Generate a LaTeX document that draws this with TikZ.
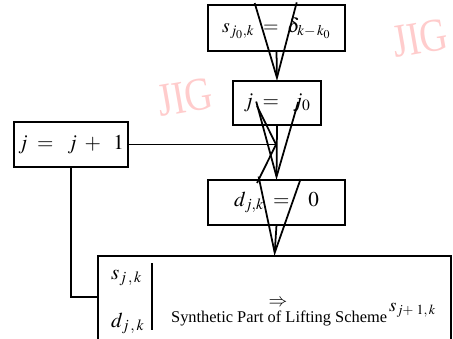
\documentclass[tikz,border=0pt]{standalone}
\usepackage{mathptmx}
\usepackage{fontspec}
\setmainfont{Liberation Serif}
\usetikzlibrary{arrows.meta}

\tikzset{
  blk/.style={draw,line width=1.6pt,inner sep=0pt,outer sep=0pt,
    font=\fontsize{18}{21}\selectfont},
  vbarb/.style={line width=1.5pt,-{Straight Barb[length=2.25cm,width=1.26cm]}},
  hbarb/.style={line width=1.5pt,-{Straight Barb[length=0.57cm,width=2.31cm]}},
  wm/.style={text=red!20,font=\fontsize{40}{40}\selectfont,
    rotate=10,xscale=0.82,inner sep=0pt}
}

\begin{document}
\begin{tikzpicture}[x=0.03cm,y=-0.03cm]
  \useasboundingbox (0,0) rectangle (453,338);
  % watermarks
  \node[wm] (wma) at (185,97) {JIG};
  \node[wm] (wmb) at (420,38) {JIG};
  \node[wm] (wmc) at (352,360) {JIG};
  % boxes
  \node[blk,minimum width=4.11cm,minimum height=1.38cm,font=\fontsize{17}{20}\selectfont]
    (init) at (276.5,28) {$s_{j_0,k}\;=\;\delta_{k-\,k_0}$};
  \node[blk,minimum width=2.64cm,minimum height=1.32cm] (start) at (277,103)
    {$j\;=\;\;j_0$};
  \node[blk,minimum width=3.42cm,minimum height=1.35cm] (incr) at (71,144.5)
    {$j\;=\;\;j\;+\;\;1$};
  \node[blk,minimum width=4.11cm,minimum height=1.35cm] (zero) at (276.5,202.5)
    {$d_{j,k}\;=\;\;\;0$};
  \node[blk,minimum width=10.59cm,minimum height=3.48cm] (synth) at (274.5,314) {};
  % inside the last box
  \node[anchor=base west,font=\fontsize{18}{21}\selectfont] (sjk) at (107,279) {$s_{j\,,\,k}$};
  \node[anchor=base west,font=\fontsize{18}{21}\selectfont] (djk) at (107,327) {$d_{j\,,\,k}$};
  \draw[line width=1.8pt] (152,263) -- (152,330);
  \node[font=\fontsize{16}{18}\selectfont] (imp) at (278,303) {$\Rightarrow$};
  \node[anchor=base west,font=\fontsize{14}{16}\selectfont] (syn) at (167,322)
    {Synthetic Part of Lifting Scheme};
  \node[anchor=base west,font=\fontsize{16}{18}\selectfont] (snext) at (385,311)
    {$s_{j+\;1,\,k}$};
  % connectors
  \draw[vbarb] (init.south) -- (start.north);
  \draw[vbarb] (start.south) -- (zero.north);
  \draw[vbarb] (zero.south) -- (synth.north);
  \draw[hbarb] (incr.east) -- (incr.east -| start.south);
  \draw[line width=1.5pt] (incr.south) |- ([yshift=0.51cm]synth.west);
\end{tikzpicture}
\end{document}
